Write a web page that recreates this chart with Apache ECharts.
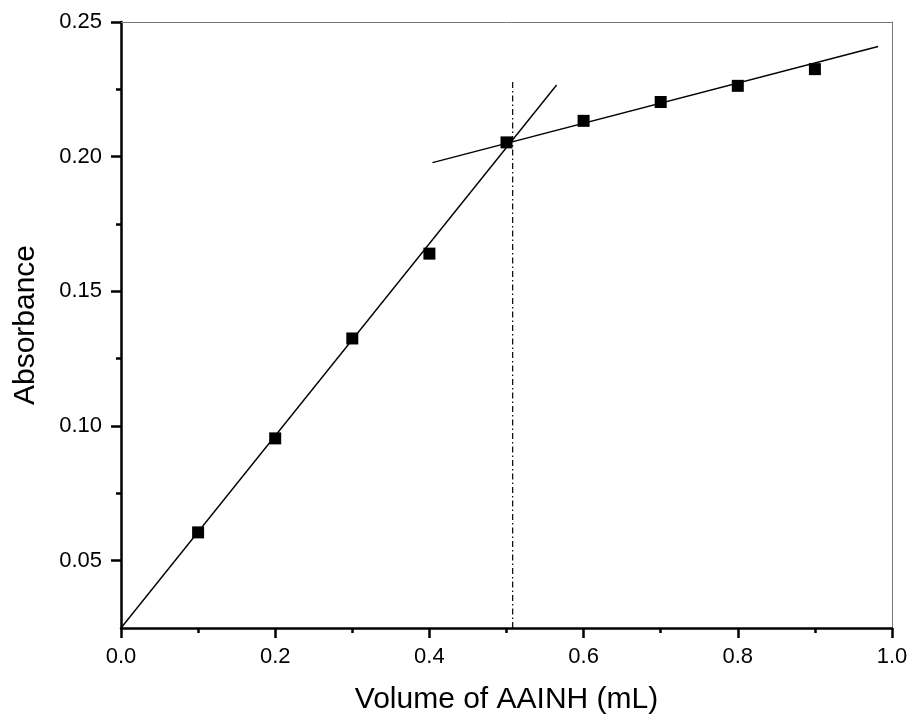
<!DOCTYPE html>
<html>
<head>
<meta charset="utf-8">
<script src="https://cdn.jsdelivr.net/npm/echarts@6/dist/echarts.min.js"></script>
<style>
html,body{margin:0;padding:0;background:#fff;}
#chart{width:912px;height:721px;}
</style>
</head>
<body>
<div id="chart"></div>
<script>
// Data
var volume = [0.1, 0.2, 0.3, 0.4, 0.5, 0.6, 0.7, 0.8, 0.9];
var absorbance = [0.0605, 0.0954, 0.1325, 0.164, 0.2053, 0.2133, 0.2203, 0.2263, 0.2325];
var fitLine1 = [[0, 0.025], [0.565, 0.2266]];
var fitLine2 = [[0.404, 0.1978], [0.982, 0.2409]];
var equivLine = [[0.508, 0.025], [0.508, 0.2278]];
var xMajorTicks = [0, 0.2, 0.4, 0.6, 0.8, 1.0];
var xMinorTicks = [0.1, 0.3, 0.5, 0.7, 0.9];
var yMajorTicks = [0.05, 0.10, 0.15, 0.20, 0.25];
var yMinorTicks = [0.075, 0.125, 0.175, 0.225];

var FONT = '"Liberation Sans", Arial, sans-serif';
var chart = echarts.init(document.getElementById('chart'));
var hidden = {show: false};
chart.setOption({
  animation: false,
  backgroundColor: '#fff',
  grid: {left: 121, right: 20, top: 22, bottom: 93, containLabel: false},
  xAxis: [
    {
      type: 'value', position: 'bottom', min: 0, max: 1,
      name: 'Volume of AAINH (mL)', nameLocation: 'middle', nameGap: 57,
      nameTextStyle: {fontFamily: FONT, fontSize: 30, color: '#000'},
      axisLine: {onZero: false, lineStyle: {color: '#000', width: 2.5}},
      axisTick: {customValues: xMajorTicks, length: 10, lineStyle: {color: '#000', width: 2.5}},
      axisLabel: {customValues: xMajorTicks, margin: 18, fontFamily: FONT, fontSize: 22, color: '#000',
        formatter: function (v) { return v.toFixed(1); }},
      splitLine: hidden
    },
    {
      type: 'value', position: 'bottom', min: 0, max: 1,
      axisLine: {show: false, onZero: false},
      axisTick: {customValues: xMinorTicks, length: 5, lineStyle: {color: '#000', width: 2.5}},
      axisLabel: hidden, splitLine: hidden
    },
    {
      type: 'value', position: 'top', min: 0, max: 1,
      axisLine: {onZero: false, lineStyle: {color: '#777', width: 1}},
      axisTick: hidden, axisLabel: hidden, splitLine: hidden
    }
  ],
  yAxis: [
    {
      type: 'value', position: 'left', min: 0.025, max: 0.25,
      name: 'Absorbance', nameLocation: 'middle', nameGap: 80, nameRotate: 90,
      nameTextStyle: {fontFamily: FONT, fontSize: 30, color: '#000'},
      axisLine: {onZero: false, lineStyle: {color: '#000', width: 2.5}},
      axisTick: {customValues: yMajorTicks, length: 10, lineStyle: {color: '#000', width: 2.5}},
      axisLabel: {customValues: yMajorTicks, margin: 19, fontFamily: FONT, fontSize: 22, color: '#000',
        formatter: function (v) { return v.toFixed(2); }},
      splitLine: hidden
    },
    {
      type: 'value', position: 'left', min: 0.025, max: 0.25,
      axisLine: {show: false, onZero: false},
      axisTick: {customValues: yMinorTicks, length: 5, lineStyle: {color: '#000', width: 2.5}},
      axisLabel: hidden, splitLine: hidden
    },
    {
      type: 'value', position: 'right', min: 0.025, max: 0.25,
      axisLine: {onZero: false, lineStyle: {color: '#777', width: 1}},
      axisTick: hidden, axisLabel: hidden, splitLine: hidden
    }
  ],
  series: [
    {
      type: 'line', data: fitLine1, showSymbol: false, symbol: 'none',
      lineStyle: {color: '#000', width: 1.4}, z: 2
    },
    {
      type: 'line', data: fitLine2, showSymbol: false, symbol: 'none',
      lineStyle: {color: '#000', width: 1.4}, z: 2
    },
    {
      type: 'line', data: equivLine, showSymbol: false, symbol: 'none',
      lineStyle: {color: '#000', width: 1.2, type: [6, 3, 1.5, 3]}, z: 2
    },
    {
      type: 'scatter', data: volume.map(function (v, i) { return [v, absorbance[i]]; }),
      symbol: 'rect', symbolSize: 12, itemStyle: {color: '#000', opacity: 1}, z: 3
    }
  ]
});
</script>
</body>
</html>
